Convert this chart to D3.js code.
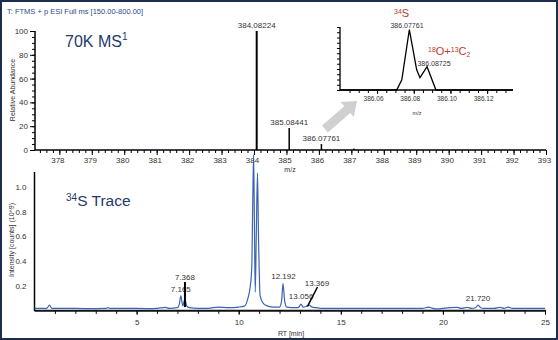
<!DOCTYPE html>
<html><head><meta charset="utf-8">
<script src="https://cdn.jsdelivr.net/npm/d3@7"></script>
<style>
body{margin:0;background:#fff;}
svg{display:block;font-family:Arial,"Liberation Sans",sans-serif;}
</style></head><body>
<svg id="c" width="558" height="340"></svg>
<script>
// ---- data ----
const msPeaksMz = [384.08224, 385.08441, 386.07761, 387.08];
const msPeaksAbund = [100, 18.5, 5, 1.2];
const msPeakLabels = ["384.08224", "385.08441", "386.07761", null];
const msTicks = d3.range(378, 394, 1);
const msYTicks = [0, 20, 40, 60, 80, 100];

const insetMz = [386.0398, 386.0600, 386.0707, 386.0735, 386.0776, 386.0816, 386.0834, 386.08725, 386.0921, 386.1100, 386.1341];
const insetAbund = [0, 0, 0, 16, 96, 32, 19.5, 37, 0, 0, 0];
const insetTicks = [386.06, 386.08, 386.10, 386.12];

const rtTime = [0.0,0.6,0.73,0.85,1.5,2.5,3.5,3.6,3.7,4.5,5.5,6.0,6.4,6.6,7.0,7.1,7.165,7.26,7.368,7.45,7.6,8.0,8.5,9.0,9.5,10.0,10.3,10.45,10.56,10.64,10.69,10.73,10.77,10.81,10.86,10.92,10.97,11.05,11.2,11.4,11.7,12.0,12.1,12.17,12.25,12.35,12.8,12.95,13.05,13.15,13.3,13.45,13.6,13.8,14.0,15.0,16.0,17.0,18.0,19.0,19.3,19.5,19.8,20.0,20.7,20.9,21.2,21.4,21.6,21.72,21.85,22.0,22.5,22.8,23.0,23.2,23.4,24.0,25.0];
const rtIntensity = [0.02,0.02,0.045,0.02,0.02,0.018,0.02,0.026,0.02,0.02,0.018,0.02,0.028,0.02,0.025,0.06,0.12,0.04,0.095,0.04,0.025,0.02,0.02,0.03,0.025,0.03,0.04,0.1,0.19,0.35,0.9,1.26,0.7,0.15,0.6,1.11,0.6,0.12,0.06,0.04,0.03,0.03,0.08,0.22,0.08,0.03,0.025,0.03,0.055,0.03,0.035,0.045,0.03,0.025,0.02,0.02,0.02,0.02,0.02,0.02,0.03,0.02,0.015,0.02,0.028,0.02,0.028,0.02,0.025,0.045,0.025,0.02,0.02,0.028,0.02,0.03,0.02,0.02,0.02];
const rtYTicks = [0.2, 0.4, 0.6, 0.8, 1.0];
const rtXTicks = [5, 10, 15, 20, 25];
const rtPeakLabels = [
  {t: 7.165, v: 0.12, text: "7.165"},
  {t: 7.368, v: 0.095, text: "7.368"},
  {t: 12.192, v: 0.22, text: "12.192"},
  {t: 13.056, v: 0.055, text: "13.056"},
  {t: 13.369, v: 0.04, text: "13.369"},
  {t: 21.720, v: 0.045, text: "21.720"}
];

// ---- drawing ----
const svg = d3.select("#c");
const navy = "#1f3a6b";
const red = "#c0392b";

svg.append("rect").attr("x",1).attr("y",1).attr("width",556).attr("height",338)
  .attr("fill","#fff").attr("stroke","#1c2d4f").attr("stroke-width",2);

svg.append("text").attr("x",7).attr("y",14).attr("font-size",7.5).attr("fill","#2d4a8a")
  .text("T:  FTMS + p ESI Full ms [150.00-800.00]");

// Top MS chart
const xT = d3.scaleLinear().domain([377.249, 393]).range([35, 546]);
const yT = d3.scaleLinear().domain([0, 100]).range([150, 31]);

const gT = svg.append("g");
gT.append("g").attr("transform","translate(0,150)")
  .call(d3.axisBottom(xT).tickValues(d3.range(377.4, 393.01, 0.2)).tickSize(3).tickFormat(""))
  .call(g=>g.select(".domain").remove());
gT.append("g").attr("transform","translate(0,150)")
  .call(d3.axisBottom(xT).tickValues(msTicks).tickSize(5).tickPadding(2).tickFormat(d3.format("d")))
  .call(g=>g.select(".domain").attr("stroke-width",1.5).attr("d","M35,0H546"))
  .call(g=>g.selectAll("text").attr("font-size",8).attr("fill","#333").attr("dx",-2));
gT.append("g").attr("transform","translate(35,0)")
  .call(d3.axisLeft(yT).tickValues(d3.range(0,101,5)).tickSize(3).tickFormat(""))
  .call(g=>g.select(".domain").remove());
gT.append("g").attr("transform","translate(35,0)")
  .call(d3.axisLeft(yT).tickValues(msYTicks).tickSize(5).tickPadding(2))
  .call(g=>g.select(".domain").attr("stroke-width",1.5).attr("d","M0,150V31"))
  .call(g=>g.selectAll("text").attr("font-size",8).attr("fill","#333"));

svg.append("text").attr("transform","translate(15,90) rotate(-90)").attr("text-anchor","middle")
  .attr("font-size",7).attr("fill","#333").text("Relative Abundance");
svg.append("text").attr("x",290).attr("y",172).attr("text-anchor","middle")
  .attr("font-size",7).attr("fill","#333").text("m/z");

gT.selectAll("line.stick").data(msPeaksMz).join("line").attr("class","stick")
  .attr("x1",d=>xT(d)).attr("x2",d=>xT(d)).attr("y1",yT(0))
  .attr("y2",(d,i)=>yT(msPeaksAbund[i])).attr("stroke","#000").attr("stroke-width",(d,i)=>i===0?2:1.5);
gT.selectAll("text.plab").data(msPeaksMz.filter((d,i)=>msPeakLabels[i])).join("text").attr("class","plab")
  .attr("x",d=>xT(d)).attr("y",(d,i)=>yT(msPeaksAbund[i])-3).attr("text-anchor","middle")
  .attr("font-size",8).attr("fill","#333").text((d,i)=>msPeakLabels[i]);

const t70 = svg.append("text").attr("x",65).attr("y",47).attr("font-size",16).attr("fill",navy);
t70.append("tspan").text("70K MS");
t70.append("tspan").attr("font-size",10).attr("dy",-7).text("1");

// Gray arrow
(function(){
  const x0=325,y0=129,x1=357,y1=101;
  const dx=x1-x0, dy=y1-y0, L=Math.hypot(dx,dy), ux=dx/L, uy=dy/L, px=-uy, py=ux;
  const sw=4.5, hw=10, hl=13;
  const bx=x1-ux*hl, by=y1-uy*hl;
  const pts=[[x0+px*sw,y0+py*sw],[bx+px*sw,by+py*sw],[bx+px*hw,by+py*hw],[x1,y1],
             [bx-px*hw,by-py*hw],[bx-px*sw,by-py*sw],[x0-px*sw,y0-py*sw]];
  svg.append("path").attr("d","M"+pts.map(p=>p.join(",")).join("L")+"Z").attr("fill","#d0d0d0");
})();

// Inset
const xI = d3.scaleLinear().domain([386.0398, 386.1341]).range([340, 513]);
const yI = d3.scaleLinear().domain([0, 100]).range([90, 27]);
const gI = svg.append("g");
gI.append("g").attr("transform","translate(0,90)")
  .call(d3.axisBottom(xI).tickValues(d3.range(386.045, 386.1341, 0.005)).tickSize(3).tickFormat(""))
  .call(g=>g.select(".domain").remove());
gI.append("g").attr("transform","translate(0,90)")
  .call(d3.axisBottom(xI).tickValues(insetTicks).tickSize(4).tickPadding(2).tickFormat(d3.format(".2f")))
  .call(g=>g.select(".domain").attr("stroke-width",1.3).attr("d","M340,0H513"))
  .call(g=>g.selectAll("text").attr("font-size",6.5).attr("fill","#333").attr("dx",-4));
gI.append("g").attr("transform","translate(340,0)")
  .call(d3.axisLeft(yI).tickValues(d3.range(0,100.1,100/12)).tickSize(3).tickFormat(""))
  .call(g=>g.select(".domain").attr("stroke-width",1.3).attr("d","M0,90V27"));
gI.append("path").datum(insetMz)
  .attr("d", d3.line().x(d=>xI(d)).y((d,i)=>yI(insetAbund[i])))
  .attr("fill","none").attr("stroke","#000").attr("stroke-width",1.3);
svg.append("text").attr("x",417).attr("y",115).attr("text-anchor","middle")
  .attr("font-size",5.5).attr("fill","#333").text("m/z");
svg.append("text").attr("x",407).attr("y",28).attr("text-anchor","middle")
  .attr("font-size",7).attr("fill","#333").text("386.07761");
svg.append("text").attr("x",434).attr("y",66).attr("text-anchor","middle")
  .attr("font-size",7).attr("fill","#333").text("386.08725");
const s34 = svg.append("text").attr("x",394).attr("y",17).attr("font-size",11).attr("fill",red);
s34.append("tspan").attr("font-size",7).attr("dy",-3).text("34");
s34.append("tspan").attr("dy",3).text("S");
const oc = svg.append("text").attr("x",428).attr("y",55).attr("font-size",11).attr("fill",red);
oc.append("tspan").attr("font-size",7).attr("dy",-3).text("18");
oc.append("tspan").attr("dy",3).text("O+");
oc.append("tspan").attr("font-size",7).attr("dy",-3).text("13");
oc.append("tspan").attr("dy",3).text("C");
oc.append("tspan").attr("font-size",7).attr("dy",2).text("2");

// Bottom chromatogram
const xB = d3.scaleLinear().domain([0, 25]).range([34.5, 545]);
const yB = d3.scaleLinear().domain([0, 1]).range([310.8, 186.8]);
const gB = svg.append("g");
gB.append("g").attr("transform","translate(0,310.8)")
  .call(d3.axisBottom(xB).tickValues(d3.range(1, 25.01, 1)).tickSize(3).tickFormat(""))
  .call(g=>g.select(".domain").remove());
gB.append("g").attr("transform","translate(0,310.8)")
  .call(d3.axisBottom(xB).tickValues(rtXTicks).tickSize(4).tickPadding(5).tickFormat(d3.format("d")))
  .call(g=>g.select(".domain").attr("stroke-width",2).attr("stroke","#111").attr("d","M34.5,0H546"))
  .call(g=>g.selectAll("text").attr("font-size",8).attr("fill","#333"));
gB.append("g").attr("transform","translate(34.5,0)")
  .call(d3.axisLeft(yB).tickValues(rtYTicks).tickSize(0).tickPadding(8).tickFormat(d3.format(".1f")))
  .call(g=>g.select(".domain").attr("stroke-width",1.5).attr("d","M0,310.8V172"))
  .call(g=>g.selectAll("text").attr("font-size",8).attr("fill","#333"));
svg.append("text").attr("transform","translate(14,240) rotate(-90)").attr("text-anchor","middle")
  .attr("font-size",7).attr("fill","#333").text("Intensity [counts] (10^9)");
svg.append("text").attr("x",291).attr("y",336).attr("text-anchor","middle")
  .attr("font-size",7).attr("fill","#333").text("RT [min]");

gB.append("path").datum(rtTime)
  .attr("d", d3.line().x(d=>xB(d)).y((d,i)=>yB(rtIntensity[i])).curve(d3.curveMonotoneX))
  .attr("fill","none").attr("stroke","#3b62b5").attr("stroke-width",1.2);

const trace = svg.append("text").attr("x",66).attr("y",206).attr("font-size",15.5).attr("fill",navy);
trace.append("tspan").attr("font-size",10).attr("dy",-5).text("34");
trace.append("tspan").attr("dy",5).text("S Trace");

const lblPos = {"7.165":[0,292],"7.368":[0,280],"12.192":[0,279],"13.056":[0,299],"13.369":[9.5,286],"21.720":[0,301]};
gB.selectAll("text.rl").data(rtPeakLabels).join("text").attr("class","rl")
  .attr("x",d=>xB(d.t)+lblPos[d.text][0]).attr("y",d=>lblPos[d.text][1])
  .attr("text-anchor","middle").attr("font-size",8).attr("fill","#333").text(d=>d.text);
gB.append("line").attr("x1",xB(7.368)).attr("x2",xB(7.368)).attr("y1",282).attr("y2",yB(0.03))
  .attr("stroke","#000").attr("stroke-width",2);
gB.append("line").attr("x1",xB(13.369)+10).attr("x2",xB(13.369)).attr("y1",287).attr("y2",yB(0.035))
  .attr("stroke","#000").attr("stroke-width",1.5);
</script></body></html>
